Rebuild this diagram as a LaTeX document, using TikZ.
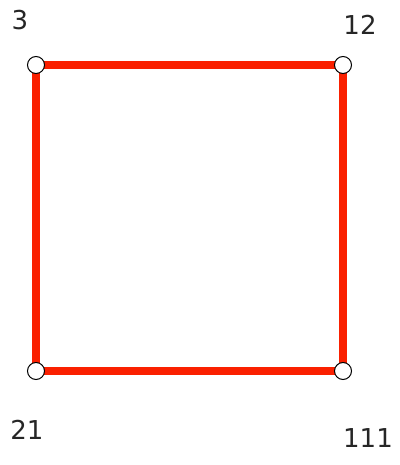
\documentclass[tikz,border=0pt]{standalone}
\usepackage{fontspec}
\setmainfont{DejaVu Sans}
\definecolor{edgered}{RGB}{250,32,0}
\begin{document}
\begin{tikzpicture}[x=1pt,y=-1pt,
  vtx/.style={circle,draw=black,fill=white,line width=1pt,minimum size=17pt,inner sep=0pt},
  edge/.style={draw=edgered,line width=8pt},
  lbl/.style={font=\fontsize{26}{30}\selectfont,text=black!85,inner sep=0pt}]
\useasboundingbox (0,0) rectangle (399,465);
\coordinate (a) at (36,65);
\coordinate (b) at (343,65);
\coordinate (c) at (36,371);
\coordinate (d) at (343,371);
\draw[edge] (a) -- (b) -- (d) -- (c) -- cycle;
\node[vtx] (va) at (a) {};
\node[vtx] (vb) at (b) {};
\node[vtx] (vc) at (c) {};
\node[vtx] (vd) at (d) {};
\node[lbl] (la) at (20,20) {3};
\node[lbl] (lb) at (360,25) {12};
\node[lbl] (lc) at (27,430) {21};
\node[lbl] (ld) at (368,438) {111};
\end{tikzpicture}
\end{document}
